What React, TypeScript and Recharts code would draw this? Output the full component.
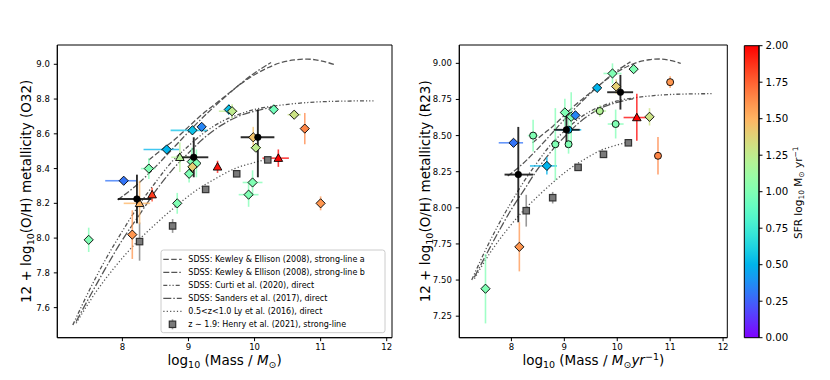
import React from 'react';
import { ComposedChart, Line, Scatter, XAxis, YAxis, ErrorBar, ReferenceArea, Label } from 'recharts';

const FONT = "'DejaVu Sans', sans-serif";

// ---------- model relations: [log10 M, 12+log(O/H)]
const keA = [[8.4, 8.45], [8.6, 8.51], [8.8, 8.57], [9.0, 8.64], [9.2, 8.71], [9.4, 8.77], [9.6, 8.83], [9.8, 8.89], [10.0, 8.94], [10.2, 8.98], [10.4, 9.01], [10.6, 9.025], [10.8, 9.03], [11.0, 9.02], [11.2, 9.0]];
const keB = [[7.93, 8.22], [8.2, 8.3], [8.5, 8.41], [8.8, 8.53], [9.1, 8.65], [9.4, 8.76], [9.7, 8.86], [10.0, 8.95], [10.25, 9.01]];
const curti = [[7.25, 7.5], [7.5, 7.7], [7.75, 7.88], [8.0, 8.04], [8.25, 8.19], [8.5, 8.32], [8.75, 8.44], [9.0, 8.53], [9.25, 8.61], [9.5, 8.67], [9.75, 8.71], [10.0, 8.74], [10.4, 8.765], [10.8, 8.78], [11.2, 8.787], [11.8, 8.79]];
const sanders = [[7.3, 7.52], [7.5, 7.66], [7.75, 7.83], [8.0, 7.99], [8.25, 8.13], [8.5, 8.27], [8.75, 8.39], [9.0, 8.49], [9.25, 8.58], [9.5, 8.65], [9.75, 8.7], [10.0, 8.73], [10.3, 8.755]];
const ly16 = [[7.3, 7.51], [7.6, 7.69], [7.9, 7.84], [8.2, 7.97], [8.5, 8.08], [8.8, 8.18], [9.1, 8.27], [9.4, 8.34], [9.7, 8.4], [10.0, 8.435], [10.2, 8.455]];

// ---------- O32 panel: [mass, Z, sfr, exLo, exHi, eyLo, eyHi]
const o32Diamonds = [
  [7.49, 7.99, 1.0, 0, 0, 0.07, 0.07],
  [8.02, 8.33, 0.3, 0.28, 0.19, 0, 0],
  [8.40, 8.40, 1.0, 0.12, 0.10, 0.06, 0.06],
  [8.15, 8.02, 1.6, 0, 0, 0.14, 0.14],
  [8.83, 8.20, 1.0, 0.05, 0.05, 0.06, 0.06],
  [8.67, 8.51, 0.5, 0.35, 0.19, 0, 0],
  [9.06, 8.62, 0.55, 0.33, 0.22, 0, 0],
  [9.20, 8.64, 0.35, 0, 0, 0, 0],
  [9.05, 8.44, 1.0, 0, 0, 0.08, 0.08],
  [9.12, 8.43, 1.0, 0, 0, 0.08, 0.08],
  [9.01, 8.37, 1.0, 0, 0, 0.05, 0.05],
  [9.06, 8.41, 1.4, 0.07, 0.07, 0.05, 0.05],
  [9.61, 8.74, 0.55, 0, 0, 0.03, 0.03],
  [9.66, 8.73, 1.25, 0.2, 0.08, 0.04, 0.04],
  [9.98, 8.58, 1.45, 0, 0, 0.06, 0.06],
  [10.02, 8.52, 1.25, 0.08, 0.08, 0, 0],
  [10.29, 8.74, 0.95, 0, 0, 0.03, 0.03],
  [10.60, 8.71, 1.3, 0.1, 0.1, 0, 0],
  [10.76, 8.63, 1.65, 0, 0, 0.09, 0.09],
  [9.97, 8.32, 1.0, 0.15, 0.15, 0.07, 0.07],
  [9.91, 8.25, 1.0, 0.15, 0.15, 0.07, 0.07],
  [11.0, 8.20, 1.6, 0, 0, 0.04, 0.04],
];
const o32Triangles = [
  [8.45, 8.25, 1.85, 0.03, 0.03, 0.04, 0.04],
  [8.26, 8.20, 1.5, 0.24, 0.16, 0.12, 0.13],
  [8.87, 8.465, 1.2, 0.13, 0.13, 0.085, 0.085],
  [9.44, 8.41, 1.95, 0, 0, 0.035, 0.035],
  [10.36, 8.46, 2.0, 0.24, 0.16, 0.05, 0.05],
];
// stacked means: [mass, Z, exLo, exHi, eyLo, eyHi]
const o32Means = [
  [8.22, 8.225, 0.29, 0.22, 0.14, 0.14],
  [9.08, 8.465, 0.18, 0.22, 0.115, 0.115],
  [10.05, 8.58, 0.26, 0.25, 0.23, 0.16],
];
// Henry et al. (2021): [mass, Z, eyLo, eyHi]
const o32Henry = [
  [8.26, 7.98, 0.11, 0.11],
  [8.76, 8.07, 0.04, 0.04],
  [9.26, 8.28, 0, 0],
  [9.73, 8.37, 0, 0],
  [10.20, 8.45, 0, 0],
];

// ---------- R23 panel
const r23Diamonds = [
  [8.04, 8.45, 0.3, 0.28, 0.18, 0, 0],
  [8.67, 8.29, 0.5, 0.32, 0.19, 0.06, 0.06],
  [9.01, 8.66, 1.0, 0, 0, 0.095, 0.095],
  [9.13, 8.63, 1.0, 0, 0, 0.2, 0.17],
  [9.21, 8.64, 0.35, 0, 0, 0.03, 0.03],
  [9.62, 8.83, 0.5, 0, 0, 0, 0],
  [9.91, 8.93, 1.0, 0.17, 0.17, 0.07, 0.07],
  [9.98, 8.84, 1.4, 0, 0, 0.05, 0.05],
  [10.31, 8.96, 1.0, 0, 0, 0, 0],
  [10.61, 8.63, 1.3, 0, 0, 0.06, 0.06],
  [7.51, 7.44, 1.0, 0, 0, 0.24, 0.24],
  [8.15, 7.73, 1.6, 0, 0, 0.17, 0.17],
];
const r23Circles = [
  [8.41, 8.50, 1.0, 0.1, 0.1, 0.11, 0.11],
  [8.83, 8.44, 1.0, 0, 0, 0.25, 0.25],
  [9.08, 8.54, 0.5, 0.24, 0.24, 0, 0],
  [9.08, 8.44, 1.0, 0, 0, 0.065, 0.18],
  [9.67, 8.67, 1.2, 0.12, 0.12, 0.04, 0.04],
  [9.97, 8.58, 1.0, 0.15, 0.15, 0.1, 0.1],
  [11.0, 8.87, 1.6, 0, 0, 0.04, 0.04],
  [10.77, 8.36, 1.65, 0, 0, 0.13, 0.13],
];
const r23Triangles = [
  [10.37, 8.625, 2.0, 0.25, 0.19, 0.16, 0.165],
];
const r23Means = [
  [8.13, 8.23, 0.26, 0.28, 0.33, 0.33],
  [9.04, 8.54, 0.24, 0.25, 0.12, 0.1],
  [10.06, 8.80, 0.25, 0.24, 0.12, 0.12],
];
const r23Henry = [
  [8.28, 7.98, 0.11, 0.11],
  [8.78, 8.07, 0.04, 0.04],
  [9.26, 8.28, 0, 0],
  [9.74, 8.37, 0, 0],
  [10.21, 8.45, 0, 0],
];

// ---------- axes
const massTicks = [8, 9, 10, 11, 12];
const o32Ticks = [7.6, 7.8, 8.0, 8.2, 8.4, 8.6, 8.8, 9.0];
const r23Ticks = [7.25, 7.5, 7.75, 8.0, 8.25, 8.5, 8.75, 9.0];
const sfrTicks = [0, 0.25, 0.5, 0.75, 1.0, 1.25, 1.5, 1.75, 2.0];
const xDomain = [7.015, 12.08];
const o32Domain = [7.427, 9.111];
const r23Domain = [7.101, 9.127];
const sfrDomain = [0, 2];

const legendLabels = [
  'SDSS: Kewley & Ellison (2008), strong-line a',
  'SDSS: Kewley & Ellison (2008), strong-line b',
  'SDSS: Curti et al. (2020), direct',
  'SDSS: Sanders et al. (2017), direct',
  '0.5<z<1.0 Ly et al. (2016), direct',
  'z \u223C 1.9: Henry et al. (2021), strong-line',
];

// ---------- styling
const DASH = {
  a: '5.5 2.4',
  b: '6 2 6 2 1.5 2',
  curti: '4 2 1.2 2 1.2 2',
  sanders: '8 2 1.5 2',
  ly: '1.2 2.2',
};
const LINE_COLOR = '#555';

function rainbowRGB(sfr: number) {
  const t = Math.min(1, Math.max(0, (sfr - sfrDomain[0]) / (sfrDomain[1] - sfrDomain[0])));
  const r = Math.min(1, Math.abs(2 * t - 0.5));
  const g = Math.sin(Math.PI * t);
  const b = Math.cos((Math.PI * t) / 2);
  return [Math.round(r * 255), Math.round(g * 255), Math.round(b * 255)];
}
const rainbow = (sfr: number, a = 1) => {
  const [r, g, b] = rainbowRGB(sfr);
  return a >= 1 ? `rgb(${r},${g},${b})` : `rgba(${r},${g},${b},${a})`;
};

function markerPath(kind: string, cx: number, cy: number, fill: string) {
  if (kind === 'D') {
    const s = 4.6;
    return <path d={`M${cx},${cy - s}L${cx + s},${cy}L${cx},${cy + s}L${cx - s},${cy}Z`} fill={fill} stroke="#000" strokeWidth={0.9} />;
  }
  if (kind === '^') {
    const s = 4.3;
    return <path d={`M${cx},${cy - s}L${cx + s},${cy + s * 0.75}L${cx - s},${cy + s * 0.75}Z`} fill={fill} stroke="#000" strokeWidth={0.9} />;
  }
  if (kind === 'o') {
    return <circle cx={cx} cy={cy} r={3.5} fill={fill} stroke="#000" strokeWidth={0.9} />;
  }
  if (kind === 'mean') {
    return <circle cx={cx} cy={cy} r={3.3} fill="#000" stroke="#000" strokeWidth={0.6} />;
  }
  // square
  const s = 3.2;
  return <rect x={cx - s} y={cy - s} width={2 * s} height={2 * s} fill="#7a7a7a" stroke="#333" strokeWidth={1.2} />;
}

function pointSeries(key: string, kind: string, x: number, y: number, ex: number[], ey: number[], fill: string, ebColor: string, ebWidth: number) {
  const data = [{ x, y, ex, ey }];
  return (
    <Scatter
      key={key}
      data={data}
      dataKey="y"
      isAnimationActive={false}
      legendType="none"
      shape={(p: any) => markerPath(kind, p.cx, p.cy, fill)}
    >
      {ex[0] || ex[1] ? <ErrorBar dataKey="ex" direction="x" width={0} stroke={ebColor} strokeWidth={ebWidth} /> : null}
      {ey[0] || ey[1] ? <ErrorBar dataKey="ey" direction="y" width={0} stroke={ebColor} strokeWidth={ebWidth} /> : null}
    </Scatter>
  );
}

const colored = (rows: number[][], kind: string, prefix: string) =>
  rows.map((r, i) => pointSeries(`${prefix}${i}`, kind, r[0], r[1], [r[3], r[4]], [r[5], r[6]], rainbow(r[2]), rainbow(r[2], 0.75), 1.6));
const meansSeries = (rows: number[][], prefix: string) =>
  rows.map((r, i) => pointSeries(`${prefix}${i}`, 'mean', r[0], r[1], [r[2], r[3]], [r[4], r[5]], '#000', 'rgba(20,20,20,0.9)', 1.9));
const henrySeries = (rows: number[][], prefix: string) =>
  rows.map((r, i) => pointSeries(`${prefix}${i}`, 's', r[0], r[1], [0, 0], [r[2], r[3]], '#7a7a7a', 'rgba(128,128,128,0.8)', 1.6));

const curveDefs = [
  { key: 'keA', data: keA, dash: DASH.a },
  { key: 'keB', data: keB, dash: DASH.b },
  { key: 'curti', data: curti, dash: DASH.curti },
  { key: 'sanders', data: sanders, dash: DASH.sanders },
  { key: 'ly', data: ly16, dash: DASH.ly },
];

const SUB = 9.5;

function XLabel({ viewBox, suffix }: any) {
  const vb = viewBox || { x: 0, y: 0, width: 0, height: 0 };
  const cx = vb.x + vb.width / 2;
  const y = vb.y + 27.6;
  return (
    <text x={cx} y={y} textAnchor="middle" fontSize={13.5} fontFamily={FONT} fill="#000">
      log<tspan dy={3} fontSize={SUB}>10</tspan>
      <tspan dy={-3}> (Mass / </tspan>
      <tspan fontStyle="italic">M</tspan>
      <tspan dy={3} fontSize={SUB}>{'\u2299'}</tspan>
      {suffix ? (
        <>
          <tspan dy={-3} fontStyle="italic">yr</tspan>
          <tspan dy={-5} fontSize={SUB}>{'\u22121'}</tspan>
          <tspan dy={5}>)</tspan>
        </>
      ) : (
        <tspan dy={-3}>)</tspan>
      )}
    </text>
  );
}

function YLabel({ viewBox, tag, dx }: any) {
  const vb = viewBox || { x: 0, y: 0, width: 0, height: 0 };
  const x = vb.x + dx;
  const y = vb.y + vb.height / 2;
  return (
    <text x={x} y={y} transform={`rotate(-90, ${x}, ${y})`} textAnchor="middle" fontSize={13.5} fontFamily={FONT} fill="#000">
      12 + log<tspan dy={3} fontSize={SUB}>10</tspan>
      <tspan dy={-3}>(O/H) metallicity ({tag})</tspan>
    </text>
  );
}

function CbarLabel({ viewBox }: any) {
  const vb = viewBox || { x: 0, y: 0, width: 0, height: 0 };
  const x = vb.x + 43;
  const y = vb.y + vb.height / 2 + 1;
  return (
    <text x={x} y={y} transform={`rotate(-90, ${x}, ${y})`} textAnchor="middle" fontSize={10.5} fontFamily={FONT} fill="#000">
      SFR log<tspan dy={2.5} fontSize={7.5}>10</tspan>
      <tspan dy={-2.5}> M</tspan>
      <tspan dy={2.5} fontSize={7.5}>{'\u2299'}</tspan>
      <tspan dy={-2.5}> yr</tspan>
      <tspan dy={-4} fontSize={7.5}>{'\u22121'}</tspan>
    </text>
  );
}

const tickStyle = { fontSize: 8.5, fill: '#000', fontFamily: FONT };

function Panel({ width, margin, yWidth, yDomain, yTicks, yDigits, tag, yLabelDx, suffix, diamonds, circles, triangles, means, henry, id }: any) {
  return (
    <ComposedChart width={width} height={380} margin={margin}>
      <XAxis
        type="number"
        dataKey="x"
        domain={xDomain}
        allowDataOverflow
        ticks={massTicks}
        tickFormatter={(v: number) => String(v)}
        height={30}
        tick={tickStyle}
        tickSize={3.5}
        tickMargin={3}
        axisLine={{ stroke: '#000' }}
        tickLine={{ stroke: '#000' }}
      >
        <Label content={(p: any) => <XLabel viewBox={p.viewBox} suffix={suffix} />} />
      </XAxis>
      <YAxis
        type="number"
        domain={yDomain}
        allowDataOverflow
        ticks={yTicks}
        tickFormatter={(v: number) => v.toFixed(yDigits)}
        width={yWidth}
        tick={tickStyle}
        tickSize={3.5}
        tickMargin={4}
        axisLine={{ stroke: '#000' }}
        tickLine={{ stroke: '#000' }}
      >
        <Label content={(p: any) => <YLabel viewBox={p.viewBox} tag={tag} dx={yLabelDx} />} />
      </YAxis>
      {curveDefs.map((c) => (
        <Line
          key={`${id}-${c.key}`}
          data={c.data.map(([x, y]) => ({ x, y }))}
          dataKey="y"
          type="monotone"
          stroke={LINE_COLOR}
          strokeWidth={1.3}
          strokeDasharray={c.dash}
          dot={false}
          activeDot={false}
          legendType="none"
          isAnimationActive={false}
        />
      ))}
      {henrySeries(henry, `${id}-h`)}
      {colored(diamonds, 'D', `${id}-d`)}
      {colored(circles, 'o', `${id}-c`)}
      {colored(triangles, '^', `${id}-t`)}
      {meansSeries(means, `${id}-m`)}
      <ReferenceArea x1={xDomain[0]} x2={xDomain[1]} y1={yDomain[0]} y2={yDomain[1]} fill="none" fillOpacity={0} stroke="#000" strokeWidth={1} ifOverflow="visible" />
    </ComposedChart>
  );
}

function ColorBar() {
  const stops = Array.from({ length: 21 }, (_, i) => i / 20);
  return (
    <ComposedChart width={100} height={380} margin={{ top: 45.7, right: 31, bottom: 42.3, left: 14.3 }}>
      <defs>
        <linearGradient id="sfrGrad" x1="0" y1="1" x2="0" y2="0">
          {stops.map((o) => (
            <stop key={o} offset={o} stopColor={rainbow(sfrDomain[0] + o * (sfrDomain[1] - sfrDomain[0]))} />
          ))}
        </linearGradient>
      </defs>
      <XAxis type="number" dataKey="x" domain={[0, 1]} hide />
      <YAxis
        type="number"
        orientation="right"
        domain={sfrDomain}
        ticks={sfrTicks}
        tickFormatter={(v: number) => v.toFixed(2)}
        width={40}
        tick={{ fontSize: 10.2, fill: '#000', fontFamily: FONT }}
        tickSize={3.5}
        tickMargin={3}
        axisLine={{ stroke: '#000' }}
        tickLine={{ stroke: '#000' }}
      >
        <Label content={(p: any) => <CbarLabel viewBox={p.viewBox} />} />
      </YAxis>
      <ReferenceArea x1={0} x2={1} y1={sfrDomain[0]} y2={sfrDomain[1]} fill="url(#sfrGrad)" fillOpacity={1} stroke="#000" strokeWidth={1} ifOverflow="visible" />
      <Scatter data={[{ x: 0.5, y: 1 }]} dataKey="y" isAnimationActive={false} legendType="none" shape={() => <g />} />
    </ComposedChart>
  );
}

function LegendBox() {
  const rowY = (i: number) => 9.3 + i * 13;
  const dashes = [DASH.a, DASH.b, DASH.curti, DASH.sanders, DASH.ly];
  return (
    <svg width={226} height={85} style={{ position: 'absolute', left: 160, top: 249 }}>
      <rect x={1} y={1} width={224} height={82.7} rx={2.5} fill="rgba(255,255,255,0.85)" stroke="#ccc" strokeWidth={1} />
      {legendLabels.map((t, i) => (
        <g key={t}>
          {i < 5 ? (
            <line x1={3.3} x2={21.7} y1={rowY(i) + 1} y2={rowY(i) + 1} stroke={LINE_COLOR} strokeWidth={1.3} strokeDasharray={dashes[i]} />
          ) : (
            <g>
              <line x1={12.5} x2={12.5} y1={rowY(i) + 1 - 5} y2={rowY(i) + 1 + 5} stroke="rgba(128,128,128,0.8)" strokeWidth={1.6} />
              <rect x={12.5 - 3.2} y={rowY(i) + 1 - 3.2} width={6.4} height={6.4} fill="#7a7a7a" stroke="#333" strokeWidth={1.2} />
            </g>
          )}
          <text x={28.3} y={rowY(i) + 1} dominantBaseline="central" fontSize={8} fontFamily={FONT} fill="#000">
            {t}
          </text>
        </g>
      ))}
    </svg>
  );
}

export default function App() {
  return (
    <div style={{ position: 'absolute', left: 0, top: 0, width: 830, height: 380, background: '#fff', fontFamily: FONT, overflow: 'hidden' }}>
      <div style={{ position: 'absolute', left: 0, top: 0 }}>
        <Panel
          id="o32"
          width={400}
          margin={{ top: 45, right: 8, bottom: 12.3, left: 0.3 }}
          yWidth={57}
          yDomain={o32Domain}
          yTicks={o32Ticks}
          yDigits={1}
          tag="O32"
          yLabelDx={31.2}
          suffix={false}
          diamonds={o32Diamonds}
          circles={[]}
          triangles={o32Triangles}
          means={o32Means}
          henry={o32Henry}
        />
      </div>
      <LegendBox />
      <div style={{ position: 'absolute', left: 400, top: 0 }}>
        <Panel
          id="r23"
          width={330}
          margin={{ top: 45, right: 2.7, bottom: 12.3, left: 0.3 }}
          yWidth={59}
          yDomain={r23Domain}
          yTicks={r23Ticks}
          yDigits={2}
          tag="R23"
          yLabelDx={29.7}
          suffix={true}
          diamonds={r23Diamonds}
          circles={r23Circles}
          triangles={r23Triangles}
          means={r23Means}
          henry={r23Henry}
        />
      </div>
      <div style={{ position: 'absolute', left: 730, top: 0 }}>
        <ColorBar />
      </div>
    </div>
  );
}
